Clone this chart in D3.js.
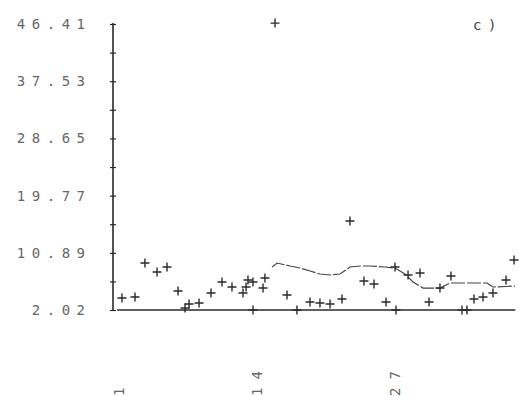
<!DOCTYPE html>
<html>
<head>
<meta charset="utf-8">
<script src="https://cdn.jsdelivr.net/npm/d3@7"></script>
<style>
  html, body { margin: 0; padding: 0; background: #fff; }
  svg { display: block; }
  .lbl { font-family: "DejaVu Sans Mono", monospace; font-size: 14px; fill: #666; letter-spacing: 6.5px; }
  .xlab { letter-spacing: 8px; }
</style>
</head>
<body>
<svg id="chart" width="521" height="396"></svg>
<script>
// ---- data ----
const yTickLabels = ["46.41", "37.53", "28.65", "19.77", "10.89", "2.02"];
const yTickValues = [46.41, 37.53, 28.65, 19.77, 10.89, 2.02];
const xTickValues = [1, 14, 27];
const xTickLabels = ["1", "14", "27"];
const panelLabel = "c)";

// observed points (x position in index units, value)
const pointX = [1.09, 2.32, 3.26, 4.40, 5.34, 6.38, 7.04, 7.42, 8.36, 9.49,
                10.53, 11.47, 12.51, 12.80, 12.98, 13.45, 13.45, 14.40, 14.58, 15.53,
                16.66, 17.60, 18.83, 19.77, 20.72, 21.85, 22.60, 23.92, 24.87, 26.00,
                26.85, 26.94, 28.08, 29.21, 30.06, 31.09, 32.13, 33.17, 33.64, 34.30,
                35.15, 36.09, 37.32, 38.08];
const pointY = [3.88, 4.04, 9.31, 7.92, 8.69, 4.97, 2.33, 2.95, 3.11, 4.66,
                6.37, 5.59, 4.66, 5.59, 6.68, 6.37, 2.02, 5.43, 6.99, 46.55,
                4.35, 2.02, 3.26, 3.11, 2.95, 3.73, 15.83, 6.52, 6.06, 3.26,
                8.69, 2.02, 7.45, 7.76, 3.26, 5.43, 7.30, 2.02, 2.02, 3.73,
                4.04, 4.66, 6.68, 9.78];

// smoothed upper curve
const curveX = [15.25, 15.72, 16.94, 17.89, 18.83, 19.77, 20.72, 21.66, 22.60, 23.55,
                24.49, 25.90, 26.85, 27.79, 28.55, 29.49, 31.09, 32.04, 33.92, 35.53,
                36.09, 38.17];
const curveY = [8.69, 9.31, 8.85, 8.54, 8.07, 7.61, 7.45, 7.61, 8.69, 8.85,
                8.85, 8.69, 8.54, 7.61, 6.37, 5.43, 5.43, 6.21, 6.21, 6.21,
                5.59, 5.74];

// lower (baseline) series
const baseX = [0.62, 38.2];
const baseY = [2.02, 2.02];

// ---- drawing ----
const svg = d3.select("#chart");
const x = d3.scaleLinear().domain([1, 38]).range([121, 513.2]);
const y = d3.scaleLinear().domain([2.02, 46.41]).range([310, 24]);
const axisX = 113;
const ink = "#2a2a2a";

const g = svg.append("g");

// y axis with major + minor ticks
const minor = d3.range(5).map(i => (yTickValues[i] + yTickValues[i + 1]) / 2);
const allTicks = yTickValues.concat(minor);
const yAxis = d3.axisLeft(y).tickValues(allTicks).tickSize(3).tickFormat("");
const ya = g.append("g").attr("transform", `translate(${axisX},0)`).call(yAxis);
ya.select(".domain").remove();
ya.selectAll(".tick line").attr("x1", -3).attr("x2", 3).attr("stroke", ink).attr("stroke-width", 1.2);
g.append("line")
  .attr("x1", axisX).attr("x2", axisX)
  .attr("y1", y(46.41) - 1).attr("y2", y(2.02) + 1)
  .attr("stroke", ink).attr("stroke-width", 1.6);

// y labels
g.selectAll("text.ylab").data(yTickValues).enter().append("text")
  .attr("class", "lbl ylab")
  .attr("x", 91.5)
  .attr("y", d => y(d))
  .attr("dy", "0.36em")
  .attr("text-anchor", "end")
  .text((d, i) => yTickLabels[i]);

// x labels (rotated)
g.selectAll("text.xlab").data(xTickValues).enter().append("text")
  .attr("class", "lbl xlab")
  .attr("transform", d => `translate(${x(d) - 2},396) rotate(-90)`)
  .attr("dy", "0.36em")
  .attr("text-anchor", "start")
  .text((d, i) => xTickLabels[i]);

// panel label
g.append("text").attr("class", "lbl").attr("x", 473).attr("y", 25).attr("dy", "0.36em")
  .style("fill", "#444").text(panelLabel);

// baseline series
const line = d3.line().x(d => x(d[0])).y(d => y(d[1]));
g.append("path")
  .datum(baseX.map((v, i) => [v, baseY[i]]))
  .attr("d", line)
  .attr("fill", "none").attr("stroke", ink).attr("stroke-width", 1.5);

// upper curve
g.append("path")
  .datum(curveX.map((v, i) => [v, curveY[i]]))
  .attr("d", line)
  .attr("fill", "none").attr("stroke", "#444").attr("stroke-width", 1.2)
  .attr("stroke-dasharray", "14,2");

// plus markers
g.selectAll("path.pt").data(pointX.map((v, i) => [v, pointY[i]])).enter().append("path")
  .attr("class", "pt")
  .attr("transform", d => `translate(${x(d[0])},${y(d[1])})`)
  .attr("d", "M-4.5,0H4.5M0,-4.5V4.5")
  .attr("fill", "none").attr("stroke", ink).attr("stroke-width", 1.4);
</script>
</body>
</html>
